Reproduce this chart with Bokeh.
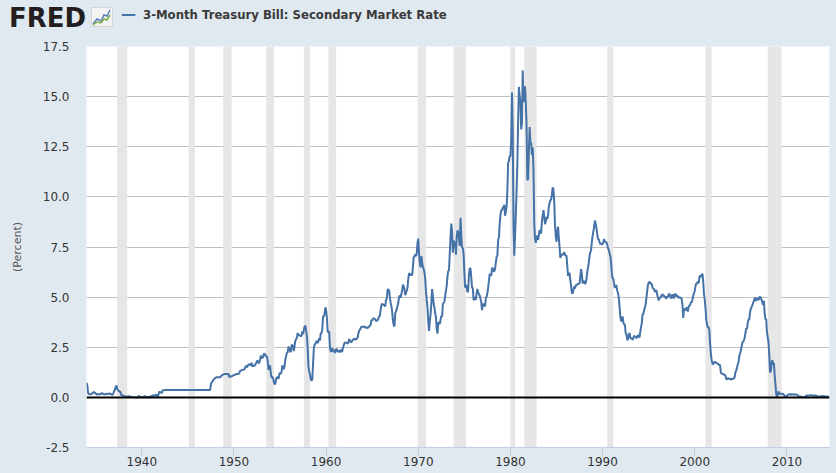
from bokeh.plotting import figure
from bokeh.layouts import column
from bokeh.models import (Range1d, FixedTicker, BoxAnnotation, Span, Div,
                          ColumnDataSource, CustomJSTickFormatter)
from bokeh.embed import file_html
from bokeh.resources import INLINE

# ---- data: 3-Month Treasury Bill, secondary market rate (percent), monthly ----
start_year = 1934
rates_1930s = [
    0.72, 0.62, 0.24, 0.15, 0.16, 0.15, 0.15, 0.19, 0.21, 0.27, 0.25, 0.23,
    0.19, 0.17, 0.13, 0.17, 0.15, 0.15, 0.15, 0.19, 0.21, 0.19, 0.17, 0.15,
    0.14, 0.17, 0.18, 0.16, 0.18, 0.20, 0.16, 0.19, 0.16, 0.14, 0.12, 0.21,
    0.31, 0.38, 0.51, 0.59, 0.41, 0.38, 0.31, 0.28, 0.30, 0.14, 0.10, 0.10,
    0.07, 0.05, 0.06, 0.05, 0.03, 0.03, 0.05, 0.05, 0.06, 0.03, 0.02, 0.02,
    0.01, 0.01, 0.01, 0.01, 0.01, 0.01, 0.01, 0.01, 0.09, 0.03, 0.01, 0.01,
]
rates_1940s = [
    0.03, 0.02, 0.01, 0.01, 0.08, 0.01, 0.01, 0.02, 0.02, 0.02, 0.01, 0.01,
    0.09, 0.04, 0.10, 0.09, 0.08, 0.09, 0.13, 0.12, 0.07, 0.03, 0.19, 0.30,
    0.23, 0.26, 0.21, 0.33, 0.36, 0.36, 0.37, 0.37, 0.37, 0.37, 0.37, 0.37,
    0.37, 0.37, 0.37, 0.37, 0.37, 0.37, 0.37, 0.37, 0.37, 0.37, 0.37, 0.37,
    0.37, 0.37, 0.37, 0.37, 0.37, 0.37, 0.37, 0.37, 0.37, 0.37, 0.37, 0.37,
    0.37, 0.37, 0.37, 0.37, 0.37, 0.37, 0.37, 0.37, 0.37, 0.37, 0.37, 0.37,
    0.37, 0.37, 0.37, 0.37, 0.37, 0.37, 0.37, 0.37, 0.37, 0.37, 0.37, 0.37,
    0.37, 0.37, 0.37, 0.37, 0.37, 0.37, 0.66, 0.74, 0.80, 0.85, 0.92, 0.95,
    0.97, 1.00, 1.00, 1.00, 1.00, 1.00, 1.00, 1.05, 1.09, 1.12, 1.14, 1.16,
    1.17, 1.17, 1.17, 1.17, 1.17, 1.17, 1.00, 1.04, 1.06, 1.04, 1.07, 1.10,
]
rates_1950s = [
    1.10, 1.13, 1.14, 1.16, 1.17, 1.17, 1.17, 1.21, 1.32, 1.33, 1.36, 1.37,
    1.38, 1.39, 1.42, 1.52, 1.58, 1.50, 1.59, 1.64, 1.65, 1.61, 1.61, 1.73,
    1.57, 1.54, 1.59, 1.57, 1.67, 1.70, 1.81, 1.83, 1.71, 1.74, 1.85, 2.09,
    1.96, 1.97, 2.01, 2.19, 2.16, 2.11, 2.04, 2.04, 1.79, 1.38, 1.44, 1.60,
    1.18, 0.97, 1.03, 0.96, 0.76, 0.64, 0.72, 0.92, 1.01, 0.98, 0.93, 1.14,
    1.23, 1.17, 1.28, 1.59, 1.45, 1.41, 1.60, 1.90, 2.07, 2.23, 2.25, 2.54,
    2.41, 2.32, 2.25, 2.60, 2.61, 2.49, 2.31, 2.60, 2.84, 2.90, 2.99, 3.21,
    3.11, 3.10, 3.08, 3.06, 3.06, 3.29, 3.16, 3.37, 3.53, 3.58, 3.29, 3.04,
    2.44, 1.53, 1.30, 1.13, 0.91, 0.83, 0.91, 1.69, 2.44, 2.63, 2.67, 2.77,
    2.82, 2.70, 2.80, 2.95, 2.84, 3.21, 3.20, 3.38, 4.04, 4.05, 4.15, 4.49,
]
rates_1960s = [
    4.35, 3.96, 3.31, 3.23, 3.29, 2.46, 2.30, 2.30, 2.48, 2.30, 2.37, 2.25,
    2.24, 2.42, 2.39, 2.29, 2.29, 2.33, 2.24, 2.39, 2.28, 2.30, 2.48, 2.60,
    2.72, 2.73, 2.72, 2.73, 2.68, 2.73, 2.92, 2.82, 2.78, 2.74, 2.83, 2.87,
    2.91, 2.92, 2.89, 2.90, 2.93, 2.99, 3.18, 3.32, 3.38, 3.45, 3.52, 3.52,
    3.52, 3.53, 3.54, 3.47, 3.48, 3.48, 3.46, 3.50, 3.53, 3.58, 3.62, 3.86,
    3.83, 3.93, 3.93, 3.93, 3.89, 3.80, 3.84, 3.84, 3.92, 4.03, 4.08, 4.36,
    4.60, 4.67, 4.63, 4.61, 4.58, 4.54, 4.86, 4.93, 5.36, 5.39, 5.34, 5.01,
    4.72, 4.56, 4.26, 3.84, 3.60, 3.54, 4.21, 4.27, 4.42, 4.56, 4.73, 5.01,
    5.08, 4.97, 5.14, 5.36, 5.62, 5.54, 5.38, 5.10, 5.20, 5.33, 5.49, 5.92,
    6.18, 6.16, 6.08, 6.15, 6.08, 6.49, 7.00, 7.01, 7.13, 7.04, 7.19, 7.72,
]
rates_1970s = [
    7.91, 7.16, 6.71, 6.48, 7.04, 6.74, 6.50, 6.41, 6.24, 5.93, 5.29, 4.86,
    4.49, 3.77, 3.32, 3.78, 4.14, 4.70, 5.40, 5.08, 4.67, 4.49, 4.19, 4.02,
    3.40, 3.18, 3.72, 3.72, 3.65, 3.87, 4.06, 4.01, 4.65, 4.72, 4.77, 5.06,
    5.31, 5.56, 6.05, 6.29, 6.35, 7.19, 8.01, 8.67, 8.29, 7.22, 7.83, 7.45,
    7.77, 7.12, 7.96, 8.33, 8.23, 7.90, 7.55, 8.96, 8.06, 7.46, 7.47, 7.15,
    6.26, 5.50, 5.49, 5.61, 5.23, 5.34, 6.13, 6.44, 6.42, 5.96, 5.48, 5.44,
    4.87, 4.88, 5.00, 4.86, 5.20, 5.41, 5.23, 5.14, 5.08, 4.92, 4.75, 4.35,
    4.62, 4.67, 4.60, 4.54, 4.96, 5.02, 5.19, 5.49, 5.81, 6.16, 6.10, 6.07,
    6.44, 6.45, 6.29, 6.29, 6.41, 6.73, 7.01, 7.08, 7.85, 7.99, 8.64, 9.08,
    9.35, 9.32, 9.48, 9.46, 9.61, 9.06, 9.24, 9.52, 10.26, 11.70, 11.79, 12.04,
]
rates_1980s = [
    12.00, 12.86, 15.20, 13.20, 8.58, 7.07, 8.06, 9.13, 10.27, 11.62, 13.73, 15.49,
    15.02, 14.79, 13.36, 13.69, 16.30, 14.73, 14.95, 15.51, 14.70, 13.54, 10.86, 10.85,
    12.28, 13.48, 12.68, 12.70, 12.09, 12.47, 11.35, 8.68, 7.92, 7.71, 8.07, 7.94,
    7.86, 8.11, 8.35, 8.21, 8.19, 8.79, 9.08, 9.34, 9.00, 8.64, 8.76, 9.00,
    8.90, 9.09, 9.52, 9.69, 9.83, 9.87, 10.12, 10.47, 10.37, 9.74, 8.61, 8.06,
    7.76, 8.27, 8.52, 7.95, 7.48, 6.95, 7.08, 7.14, 7.10, 7.16, 7.24, 7.10,
    7.07, 7.06, 6.56, 6.06, 6.15, 6.21, 5.83, 5.53, 5.21, 5.18, 5.35, 5.53,
    5.43, 5.59, 5.59, 5.64, 5.66, 5.67, 5.69, 6.04, 6.40, 6.13, 5.69, 5.77,
    5.81, 5.66, 5.70, 5.91, 6.26, 6.46, 6.73, 7.06, 7.24, 7.35, 7.76, 8.07,
    8.27, 8.53, 8.82, 8.65, 8.43, 8.15, 7.88, 7.90, 7.75, 7.64, 7.69, 7.63,
]
rates_1990s = [
    7.64, 7.74, 7.90, 7.77, 7.74, 7.73, 7.62, 7.45, 7.36, 7.17, 7.06, 6.74,
    6.22, 5.94, 5.91, 5.65, 5.46, 5.57, 5.58, 5.33, 5.22, 4.99, 4.56, 4.07,
    3.80, 3.84, 4.04, 3.75, 3.63, 3.66, 3.21, 3.13, 2.91, 2.86, 3.13, 3.22,
    3.00, 2.93, 2.95, 2.87, 2.96, 3.07, 3.04, 3.02, 2.95, 3.02, 3.10, 3.06,
    2.98, 3.25, 3.50, 3.68, 4.14, 4.14, 4.33, 4.48, 4.62, 4.95, 5.29, 5.60,
    5.71, 5.77, 5.73, 5.65, 5.67, 5.47, 5.42, 5.40, 5.28, 5.28, 5.36, 5.14,
    5.00, 4.83, 4.96, 4.95, 5.02, 5.09, 5.15, 5.05, 5.09, 4.99, 5.03, 4.91,
    5.03, 5.01, 5.14, 5.16, 5.05, 4.93, 5.05, 5.14, 4.95, 4.97, 5.14, 5.16,
    5.04, 5.09, 5.03, 4.95, 5.00, 4.98, 4.96, 4.90, 4.61, 3.96, 4.41, 4.39,
    4.34, 4.45, 4.48, 4.28, 4.51, 4.59, 4.60, 4.76, 4.73, 4.88, 5.07, 5.20,
]
rates_2000s = [
    5.32, 5.55, 5.69, 5.66, 5.79, 5.69, 5.96, 6.09, 6.00, 6.11, 6.17, 5.77,
    5.15, 4.88, 4.42, 3.87, 3.62, 3.49, 3.51, 3.36, 2.64, 2.16, 1.87, 1.69,
    1.65, 1.73, 1.79, 1.72, 1.73, 1.70, 1.68, 1.62, 1.63, 1.58, 1.23, 1.19,
    1.17, 1.17, 1.13, 1.13, 1.07, 0.92, 0.90, 0.95, 0.94, 0.92, 0.93, 0.90,
    0.88, 0.93, 0.94, 0.94, 1.02, 1.27, 1.33, 1.48, 1.65, 1.76, 2.07, 2.19,
    2.33, 2.54, 2.74, 2.78, 2.84, 2.97, 3.22, 3.44, 3.42, 3.71, 3.88, 3.89,
    4.24, 4.43, 4.51, 4.60, 4.72, 4.79, 4.95, 4.96, 4.81, 4.92, 4.94, 4.85,
    4.98, 5.03, 4.94, 4.87, 4.73, 4.61, 4.82, 4.20, 3.89, 3.90, 3.27, 3.00,
    2.75, 2.12, 1.26, 1.29, 1.73, 1.86, 1.63, 1.72, 1.13, 0.67, 0.19, 0.03,
    0.13, 0.30, 0.22, 0.16, 0.18, 0.18, 0.18, 0.17, 0.12, 0.07, 0.05, 0.05,
]
rates_2010s = [
    0.06, 0.11, 0.15, 0.16, 0.16, 0.12, 0.16, 0.16, 0.15, 0.13, 0.14, 0.14,
    0.15, 0.13, 0.10, 0.06, 0.04, 0.04, 0.04, 0.02, 0.01, 0.02, 0.01, 0.01,
    0.03, 0.09, 0.08, 0.08, 0.09, 0.09, 0.10, 0.10, 0.11, 0.10, 0.09, 0.07,
    0.07, 0.10, 0.09, 0.06, 0.04, 0.05, 0.04, 0.04, 0.02, 0.05, 0.07, 0.07,
    0.04, 0.05, 0.05, 0.03, 0.03, 0.04, 0.03, 0.03,
]

# NBER recessions (year-month)
rec_start = ["1937-05", "1945-02", "1948-11", "1953-07", "1957-08", "1960-04", "1969-12",
             "1973-11", "1980-01", "1981-07", "1990-07", "2001-03", "2007-12"]
rec_end = ["1938-06", "1945-10", "1949-10", "1954-05", "1958-04", "1961-02", "1970-11",
           "1975-03", "1980-07", "1982-11", "1991-03", "2001-11", "2009-06"]

x_ticks = [1940, 1950, 1960, 1970, 1980, 1990, 2000, 2010]
y_ticks = [-2.5, 0.0, 2.5, 5.0, 7.5, 10.0, 12.5, 15.0, 17.5]
x_end = 2014.62
brand = "FRED"
title_text = "3-Month Treasury Bill: Secondary Market Rate"
y_label = "(Percent)"

# ---- build series ----
rates = (rates_1930s + rates_1940s + rates_1950s + rates_1960s + rates_1970s +
         rates_1980s + rates_1990s + rates_2000s + rates_2010s)
dates = [start_year + i / 12.0 for i in range(len(rates))]


def ym(s):
    y, m = s.split("-")
    return int(y) + (int(m) - 1) / 12.0


BG = "#E1E9F0"
LINE = "#4572A7"
W, H = 836, 473
HEAD_H = 36

# ---- header (HTML strip above the chart) ----
icon_svg = (
    '<svg width="22" height="20" style="position:absolute;left:91px;top:7px;">'
    '<rect x="0.5" y="0.5" width="21" height="19" fill="#F3F3F3" stroke="#D6D6D6"/>'
    '<polyline points="2,17 6,12 10,14 13,8 16,9 19,3" fill="none" stroke="#5A7FB8" stroke-width="1.5"/>'
    '<polyline points="2,18 6,15 10,16 13,12 16,13 19,8" fill="none" stroke="#7DB04A" stroke-width="1.5"/>'
    '</svg>'
)
header_html = (
    f'<div style="position:relative;width:{W}px;height:{HEAD_H}px;background:{BG};'
    'overflow:hidden;font-family:\'DejaVu Sans\',Verdana,sans-serif;">'
    f'<span style="position:absolute;left:9px;top:5px;font-size:26px;line-height:26px;'
    f'font-weight:bold;color:#231F20;">{brand}</span>'
    + icon_svg +
    f'<span style="position:absolute;left:121px;top:7px;font-size:15px;line-height:15px;'
    f'font-weight:bold;color:{LINE};">\u2014</span>'
    f'<span style="position:absolute;left:143px;top:10px;font-size:11.7px;line-height:11.7px;'
    f'font-weight:bold;color:#3A3A3A;white-space:nowrap;">{title_text}</span>'
    '</div>'
)
header = Div(text=header_html, width=W, height=HEAD_H, margin=(0, 0, 0, 0),
             styles={"background-color": BG})

# ---- main chart ----
p = figure(width=W, height=H - HEAD_H, output_backend="svg", toolbar_location=None,
           x_range=Range1d(dates[0], x_end), y_range=Range1d(y_ticks[0], y_ticks[-1]),
           border_fill_color=BG, background_fill_color="white", outline_line_color=None,
           min_border_left=86, min_border_right=7, min_border_top=10, min_border_bottom=26,
           margin=(0, 0, 0, 0))

for s, e in zip(rec_start, rec_end):
    p.add_layout(BoxAnnotation(left=ym(s), right=ym(e), fill_color="#E6E6E6",
                               fill_alpha=1.0, line_color=None, level="underlay"))

p.add_layout(Span(location=0, dimension="width", line_color="black", line_width=2))

src = ColumnDataSource(dict(x=dates, y=rates))
p.line("x", "y", source=src, line_color=LINE, line_width=2)

p.xaxis.ticker = FixedTicker(ticks=x_ticks)
p.xaxis.axis_line_color = "#C0D0E0"
p.xaxis.major_tick_line_color = "#C0D0E0"
p.xaxis.major_tick_out = 9
p.xaxis.major_tick_in = 0
p.xaxis.minor_tick_line_color = None
p.xaxis.major_label_standoff = 0
p.xaxis.major_label_text_font = "DejaVu Sans"
p.xaxis.major_label_text_font_size = "12px"
p.xaxis.major_label_text_color = "#333333"

p.yaxis.ticker = FixedTicker(ticks=y_ticks)
p.yaxis.axis_line_color = None
p.yaxis.major_tick_line_color = None
p.yaxis.minor_tick_line_color = None
p.yaxis.major_tick_out = 0
p.yaxis.major_tick_in = 0
p.yaxis.major_label_standoff = 17
p.yaxis.formatter = CustomJSTickFormatter(code="return tick.toFixed(1);")
p.yaxis.major_label_text_font = "DejaVu Sans"
p.yaxis.major_label_text_font_size = "12px"
p.yaxis.major_label_text_color = "#333333"
p.yaxis.axis_label = y_label
p.yaxis.axis_label_text_font = "DejaVu Sans"
p.yaxis.axis_label_text_font_style = "normal"
p.yaxis.axis_label_text_font_size = "11px"
p.yaxis.axis_label_text_color = "#555555"
p.yaxis.axis_label_standoff = 16

p.xgrid.grid_line_color = None
p.ygrid.ticker = FixedTicker(ticks=y_ticks)
p.ygrid.grid_line_color = "#C0C0C0"
p.ygrid.grid_line_width = 1

layout = column(header, p, spacing=0, styles={"background-color": BG})
open("out.html", "w").write(file_html(layout, INLINE))
